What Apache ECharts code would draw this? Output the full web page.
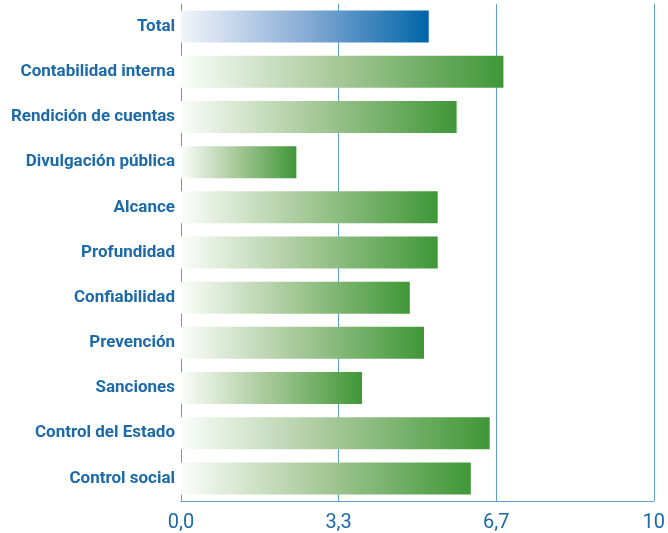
<!DOCTYPE html>
<html>
<head>
<meta charset="utf-8">
<script src="https://cdn.jsdelivr.net/npm/echarts@6/dist/echarts.min.js"></script>
<style>
  html, body { margin: 0; padding: 0; background: #fff; }
  #chart { width: 668px; height: 533px; }
</style>
</head>
<body>
<div id="chart"></div>
<script>
const categories = [
  'Total',
  'Contabilidad interna',
  'Rendición de cuentas',
  'Divulgación pública',
  'Alcance',
  'Profundidad',
  'Confiabilidad',
  'Prevención',
  'Sanciones',
  'Control del Estado',
  'Control social'
]
const values = [5.24, 6.82, 5.83, 2.44, 5.43, 5.43, 4.84, 5.14, 3.83, 6.53, 6.13]

const blue = '#1c6aa9'
const lineBlue = '#5b9fd3'

const blueFill = new echarts.graphic.LinearGradient(0, 0, 1, 0, [
  { offset: 0, color: '#f2f5fb' },
  { offset: 0.5, color: '#88acd5' },
  { offset: 1, color: '#0064a8' }
])
const greenFill = new echarts.graphic.LinearGradient(0, 0, 1, 0, [
  { offset: 0, color: '#fbfdfa' },
  { offset: 0.5, color: '#a3c795' },
  { offset: 1, color: '#3f9737' }
])

const chart = echarts.init(document.getElementById('chart'))

chart.setOption({
  animation: false,
  grid: { left: 181, right: 12, top: 4, bottom: 32 },
  xAxis: {
    type: 'value',
    min: 0,
    max: 10,
    interval: 10 / 3,
    axisLine: { show: true, lineStyle: { color: lineBlue, width: 1 } },
    axisTick: { show: false },
    splitLine: { show: true, lineStyle: { color: lineBlue, width: 1 } },
    axisLabel: {
      color: blue,
      fontFamily: 'Roboto, sans-serif',
      fontSize: 20,
      margin: 12,
      formatter: (v) => {
        const r = Math.round(v * 10) / 10
        return r === 10 ? '10' : r.toFixed(1).replace('.', ',')
      }
    }
  },
  yAxis: {
    type: 'category',
    inverse: true,
    data: categories,
    axisLine: { show: true, lineStyle: { color: lineBlue, width: 1 } },
    axisTick: { show: false },
    axisLabel: {
      color: blue,
      fontWeight: 'bold',
      fontFamily: 'Roboto, sans-serif',
      fontSize: 17,
      margin: 6
    }
  },
  series: [
    {
      type: 'bar',
      barWidth: 32,
      data: values.map((v, i) => ({
        value: v,
        itemStyle: { color: i === 0 ? blueFill : greenFill }
      }))
    }
  ]
})
</script>
</body>
</html>
